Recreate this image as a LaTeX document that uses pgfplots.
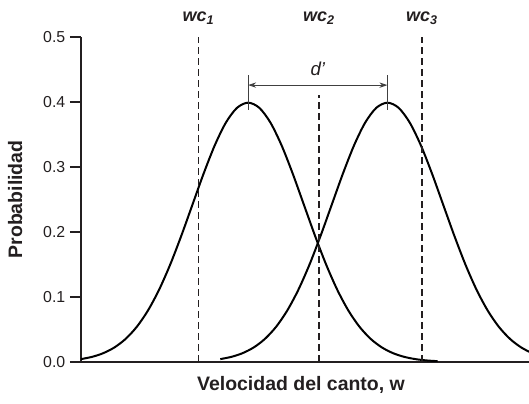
\documentclass[border=0pt]{standalone}
\usepackage{pgfplots}
\pgfplotsset{compat=1.18}
\usepackage{fontspec}
\setmainfont{Liberation Sans}
\usetikzlibrary{arrows.meta}
\definecolor{txt}{HTML}{231F20}
\pgfplotstableread{
x y
-3.0 0.00443
-2.8 0.00792
-2.6 0.01358
-2.4 0.02239
-2.2 0.03547
-2.0 0.05399
-1.8 0.07895
-1.6 0.11092
-1.4 0.14973
-1.2 0.19419
-1.0 0.24197
-0.8 0.28969
-0.6 0.33322
-0.4 0.36827
-0.2 0.39104
0.0 0.39894
0.2 0.39104
0.4 0.36827
0.6 0.33322
0.8 0.28969
1.0 0.24197
1.2 0.19419
1.4 0.14973
1.6 0.11092
1.8 0.07895
2.0 0.05399
2.2 0.03547
2.4 0.02239
2.6 0.01358
2.8 0.00792
3.0 0.00443
3.2 0.00238
3.4 0.00123
}\curveA
\pgfplotstableread{
x y
-0.5 0.00443
-0.3 0.00792
-0.1 0.01358
0.1 0.02239
0.3 0.03547
0.5 0.05399
0.7 0.07895
0.9 0.11092
1.1 0.14973
1.3 0.19419
1.5 0.24197
1.7 0.28969
1.9 0.33322
2.1 0.36827
2.3 0.39104
2.5 0.39894
2.7 0.39104
2.9 0.36827
3.1 0.33322
3.3 0.28969
3.5 0.24197
3.7 0.19419
3.9 0.14973
4.1 0.11092
4.3 0.07895
4.5 0.05399
4.7 0.03547
4.9 0.02239
5.1 0.01358
5.3 0.00792
5.5 0.00443
}\curveB
\begin{document}
\begin{tikzpicture}
\begin{axis}[
  width=336pt, height=243.75pt, scale only axis,
  xmin=-3, xmax=5.04, ymin=0, ymax=0.5,
  axis lines=left,
  axis line style={-, line width=0.9pt, color=txt},
  xtick=\empty,
  ytick={0,0.1,0.2,0.3,0.4,0.5},
  tick align=outside,
  major tick length=8.25pt,
  tick style={line width=0.8pt, color=txt},
  /pgf/number format/assume math mode=true,
  /pgf/number format/.cd, fixed, fixed zerofill, precision=1, /pgfplots/.cd,
  yticklabel style={font=\fontsize{11.9}{14}\selectfont, color=txt},
  ylabel={Probabilidad},
  ylabel style={at={(axis description cs:-0.147,0.5)}, anchor=center, font=\fontsize{14.6}{17}\selectfont\bfseries, color=txt},
  xlabel={Velocidad del canto, w},
  xlabel style={at={(axis description cs:0.491,-0.071)}, anchor=center, font=\fontsize{14.6}{17}\selectfont\bfseries, color=txt},
  clip mode=individual,
]
\addplot[black, line width=1.5pt, smooth] table[x=x,y=y] {\curveA};
\addplot[black, line width=1.5pt, smooth] table[x=x,y=y] {\curveB};
\addplot[txt, line width=0.9pt, dash pattern=on 5.25pt off 3pt] coordinates {(-0.89,0) (-0.89,0.5)};
\addplot[txt, line width=0.9pt, dash pattern=on 5.25pt off 3pt] coordinates {(1.27,0) (1.27,0.41)};
\addplot[txt, line width=0.9pt, dash pattern=on 5.25pt off 3pt] coordinates {(3.12,0) (3.12,0.5)};
\addplot[black!75, line width=0.7pt] coordinates {(0,0.388) (0,0.441)};
\addplot[black!75, line width=0.7pt] coordinates {(2.5,0.388) (2.5,0.441)};
\addplot[black!75, line width=0.7pt, {Stealth[length=6pt,width=4pt]}-{Stealth[length=6pt,width=4pt]}] coordinates {(0,0.426) (2.5,0.426)};
\node[font=\fontsize{13.5}{15}\selectfont\bfseries\itshape, color=txt] at (axis cs:-0.89,0.529) {wc\textsubscript{1}};
\node[font=\fontsize{13.5}{15}\selectfont\bfseries\itshape, color=txt] at (axis cs:1.27,0.529) {wc\textsubscript{2}};
\node[font=\fontsize{13.5}{15}\selectfont\bfseries\itshape, color=txt] at (axis cs:3.12,0.529) {wc\textsubscript{3}};
\node[font=\fontsize{14}{16}\selectfont\itshape, color=txt] at (axis cs:1.25,0.451) {d’};
\end{axis}
\pgfresetboundingbox
\path[use as bounding box] ([xshift=-60.75pt,yshift=-31.5pt]current axis.south west) rectangle ([yshift=27.75pt]current axis.north east);
\end{tikzpicture}
\end{document}
